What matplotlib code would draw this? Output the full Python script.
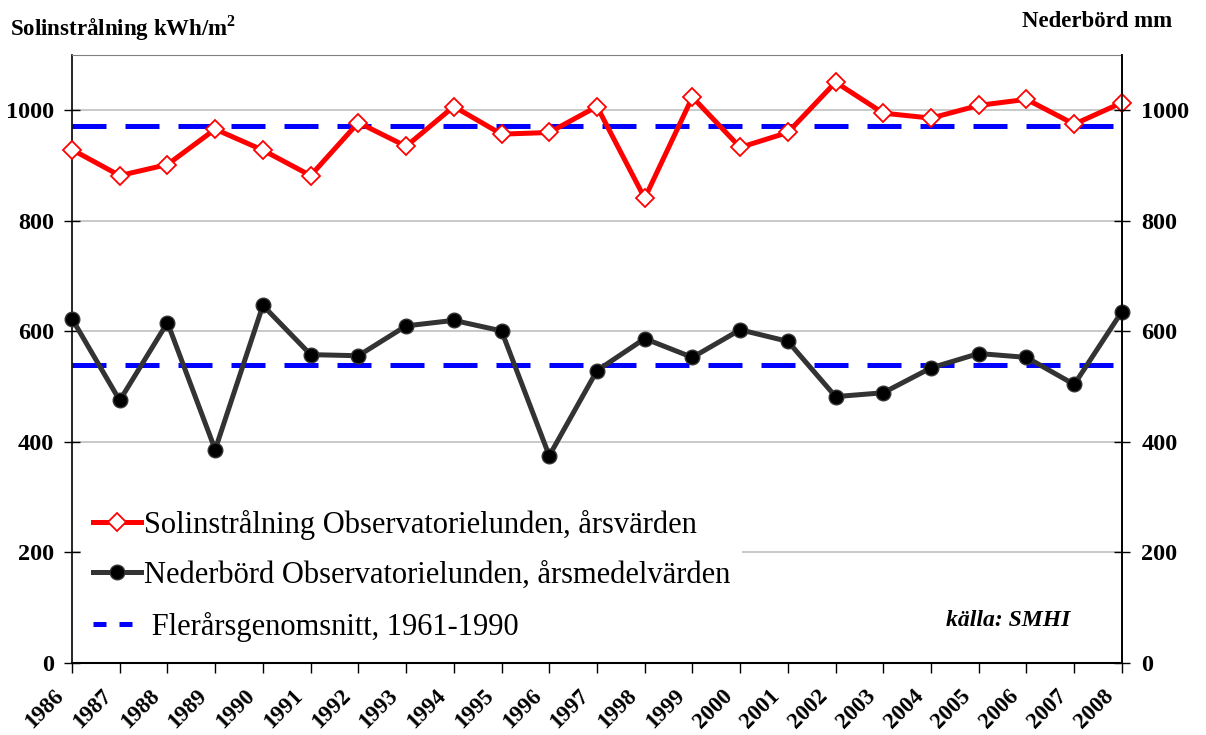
import numpy as np
import matplotlib
matplotlib.use("Agg")
import matplotlib.pyplot as plt
from matplotlib.lines import Line2D

plt.rcParams["font.family"] = ["Liberation Serif", "DejaVu Serif"]
plt.rcParams["mathtext.fontset"] = "custom"
plt.rcParams["mathtext.rm"] = "Liberation Serif"
plt.rcParams["mathtext.bf"] = "Liberation Serif:bold"

years = list(range(1986, 2009))
solin = [929, 882, 902, 966, 928, 882, 978, 935, 1007, 957, 960, 1007,
         841, 1024, 933, 960, 1051, 995, 986, 1009, 1020, 975, 1014]
nederbord = [623, 475, 616, 386, 647, 558, 556, 610, 620, 601, 375, 529,
             587, 553, 603, 582, 482, 489, 534, 560, 553, 504, 636]
solin_mean = 971      # flerårsgenomsnitt 1961-1990, solinstrålning
neder_mean = 540      # flerårsgenomsnitt 1961-1990, nederbörd

fig = plt.figure(figsize=(12.06, 7.35), dpi=100)
ax = fig.add_axes([0.0597, 0.098, 0.8706, 0.827])

ax.set_xlim(1986, 2008)
ax.set_ylim(0, 1100)
ax.set_yticks(np.arange(0, 1001, 200))
ax.grid(True, axis="y", color="#c0c0c0", lw=1.2, zorder=0)

dash = dict(color="#0000ff", lw=3.6, ls=(0, (6.8, 3.8)), zorder=2)
ax.axhline(solin_mean, **dash)
ax.axhline(neder_mean, **dash)

ax.plot(years, solin, color="#ff0000", lw=3.6, marker="D", ms=9,
        mfc="white", mec="#ff0000", mew=1.3, zorder=4, clip_on=False)
ax.plot(years, nederbord, color="#333333", lw=3.6, marker="o", ms=10.5,
        mfc="black", mec="#333333", zorder=4, clip_on=False)

ax.spines["top"].set_color("#808080")
for s in ("left", "right", "bottom"):
    ax.spines[s].set_color("black")
ax.spines["right"].set_linewidth(1.2)
ax.spines["left"].set_linewidth(1.2)
ax.spines["bottom"].set_linewidth(1.5)

# year labels drawn by hand: rotated 45 degrees, right end just
# down-left of each tick
ax.set_xticks(years)
ax.set_xticklabels([])
ax.tick_params(axis="x", direction="out", length=7, width=1)
for y in years:
    ax.annotate(str(y), (y, 0), xycoords=("data", "axes fraction"),
                textcoords="offset points", xytext=(-8, -21.5),
                rotation=45, rotation_mode="anchor", ha="right",
                va="center", fontsize=16.5, fontweight="bold",
                annotation_clip=False)

ax.tick_params(axis="y", direction="inout", length=12, width=1, pad=7,
               labelsize=17.5)
for t in ax.get_yticklabels():
    t.set_fontweight("bold")

ax2 = ax.twinx()
ax2.set_ylim(0, 1100)
ax2.set_yticks(np.arange(0, 1001, 200))
ax2.tick_params(axis="y", direction="inout", length=12, width=1, pad=8,
                labelsize=17.5)
for t in ax2.get_yticklabels():
    t.set_fontweight("bold")
for s in ("top", "left", "bottom"):
    ax2.spines[s].set_visible(False)
ax2.spines["right"].set_linewidth(1.2)

fig.text(0.008, 0.962, "Solinstrålning kWh/m$^\\mathbf{2}$", fontsize=16.5,
         fontweight="bold", ha="left", va="center")
fig.text(0.972, 0.971, "Nederbörd mm", fontsize=16.5, fontweight="bold",
         ha="right", va="center")

ax.text(0.951, 0.07, "källa: SMHI", transform=ax.transAxes, fontsize=17,
        fontweight="bold", style="italic", ha="right", va="center")

handles = [
    Line2D([0], [0], color="#ff0000", lw=3.6, marker="D", ms=9, mfc="white",
           mec="#ff0000", mew=1.3,
           label="Solinstrålning Observatorielunden, årsvärden"),
    Line2D([0], [0], color="#333333", lw=3.6, marker="o", ms=10.5,
           mfc="black", mec="#333333",
           label="Nederbörd Observatorielunden, årsmedelvärden"),
    Line2D([0], [0], color="#0000ff", lw=3.6, ls=(0, (2.6, 2.6)),
           label=" Flerårsgenomsnitt, 1961-1990"),
]
leg = ax.legend(handles=handles, loc="lower left",
                bbox_to_anchor=(0.0, 0.0), fontsize=22, frameon=True,
                fancybox=False, edgecolor="none", facecolor="white",
                framealpha=1, handlelength=1.55, handletextpad=0.1,
                labelspacing=0.7, borderpad=0.4, borderaxespad=0.3)
leg.set_zorder(5)

fig.savefig("out.png", dpi=100)
